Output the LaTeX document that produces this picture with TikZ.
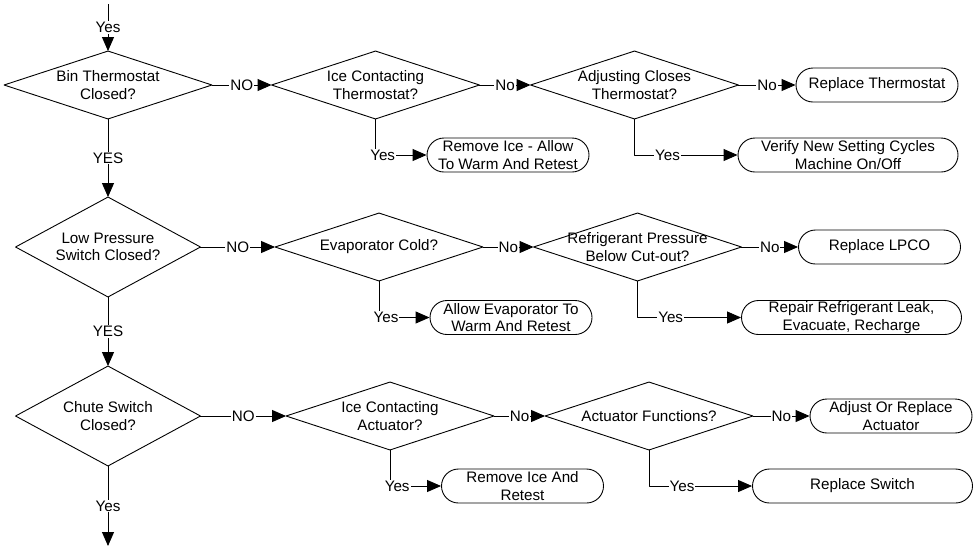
\documentclass[tikz,border=0pt]{standalone}
\usepackage{fontspec}
\setmainfont{Liberation Sans}
\usetikzlibrary{arrows.meta}
\begin{document}
\begin{tikzpicture}[x=1pt,y=-1pt,line width=.9pt,line join=round,>={Triangle[length=14pt,width=12pt]},
  font=\fontsize{15.2}{17.6}\selectfont,
  decision/.style={minimum width=207pt,minimum height=67pt,inner sep=0pt,align=center},
  mainq/.style={decision,minimum width=184pt,minimum height=99pt},
  action/.style={draw,rounded corners=17pt,minimum width=162pt,minimum height=34pt,inner sep=0pt,align=center},
  wide/.style={action,minimum width=220pt},
  lbl/.style={fill=white,inner sep=1pt}]
\useasboundingbox (0,0) rectangle (973,547);
\coordinate (start) at (108,4);
\coordinate (stop) at (108,546);
\node[decision] (bin) at (108,85) {Bin Thermostat\\Closed?};
\node[decision] (icet) at (375.5,85) {Ice Contacting\\Thermostat?};
\node[decision] (adjt) at (634.5,85) {Adjusting Closes\\Thermostat?};
\node[action] (repth) at (877,85) {Replace Thermostat};
\node[action] (remice) at (508,155) {Remove Ice - Allow\\To Warm And Retest};
\node[wide] (verify) at (848,155) {Verify New Setting Cycles\\Machine On/Off};
\node[mainq] (lowp) at (108,247) {Low Pressure\\Switch Closed?};
\node[decision] (evap) at (379,247) {Evaporator Cold?};
\node[decision] (refp) at (637.5,247) {Refrigerant Pressure\\Below Cut-out?};
\node[action] (replpco) at (879.5,247) {Replace LPCO};
\node[action] (allowev) at (511,317.5) {Allow Evaporator To\\Warm And Retest};
\node[wide] (repair) at (851.5,317.5) {Repair Refrigerant Leak,\\Evacuate, Recharge};
\node[mainq] (chute) at (108,416) {Chute Switch\\Closed?};
\node[decision] (icea) at (390,416) {Ice Contacting\\Actuator?};
\node[decision] (actf) at (649,416) {Actuator Functions?};
\node[action] (adjrep) at (891,416) {Adjust Or Replace\\Actuator};
\node[action] (remice2) at (522.5,486) {Remove Ice And\\Retest};
\node[wide] (replsw) at (862.5,486) {Replace Switch};
\foreach \d in {bin,icet,adjt,lowp,evap,refp,chute,icea,actf}
\draw (\d.west)--(\d.north)--(\d.east)--(\d.south)--cycle;
\draw[->] (start) -- node[lbl] {Yes} (bin.north);
\draw[->] (bin.east) -- node[lbl] {NO} (icet.west);
\draw[->] (icet.east) -- node[lbl] {No} (adjt.west);
\draw[->] (adjt.east) -- node[lbl] {No} (repth.west);
\draw[->] (icet.south) |- node[lbl,pos=.57] {Yes} (remice.west);
\draw[->] (adjt.south) |- node[lbl,pos=.66] {Yes} (verify.west);
\draw[->] (bin.south) -- node[lbl] {YES} (lowp.north);
\draw[->] (lowp.east) -- node[lbl] {NO} (evap.west);
\draw[->] (evap.east) -- node[lbl] {No} (refp.west);
\draw[->] (refp.east) -- node[lbl] {No} (replpco.west);
\draw[->] (evap.south) |- node[lbl,pos=.57] {Yes} (allowev.west);
\draw[->] (refp.south) |- node[lbl,pos=.66] {Yes} (repair.west);
\draw[->] (lowp.south) -- node[lbl] {YES} (chute.north);
\draw[->] (chute.east) -- node[lbl] {NO} (icea.west);
\draw[->] (icea.east) -- node[lbl] {No} (actf.west);
\draw[->] (actf.east) -- node[lbl] {No} (adjrep.west);
\draw[->] (icea.south) |- node[lbl,pos=.57] {Yes} (remice2.west);
\draw[->] (actf.south) |- node[lbl,pos=.66] {Yes} (replsw.west);
\draw[->] (chute.south) -- node[lbl] {Yes} (stop);
\end{tikzpicture}
\end{document}
